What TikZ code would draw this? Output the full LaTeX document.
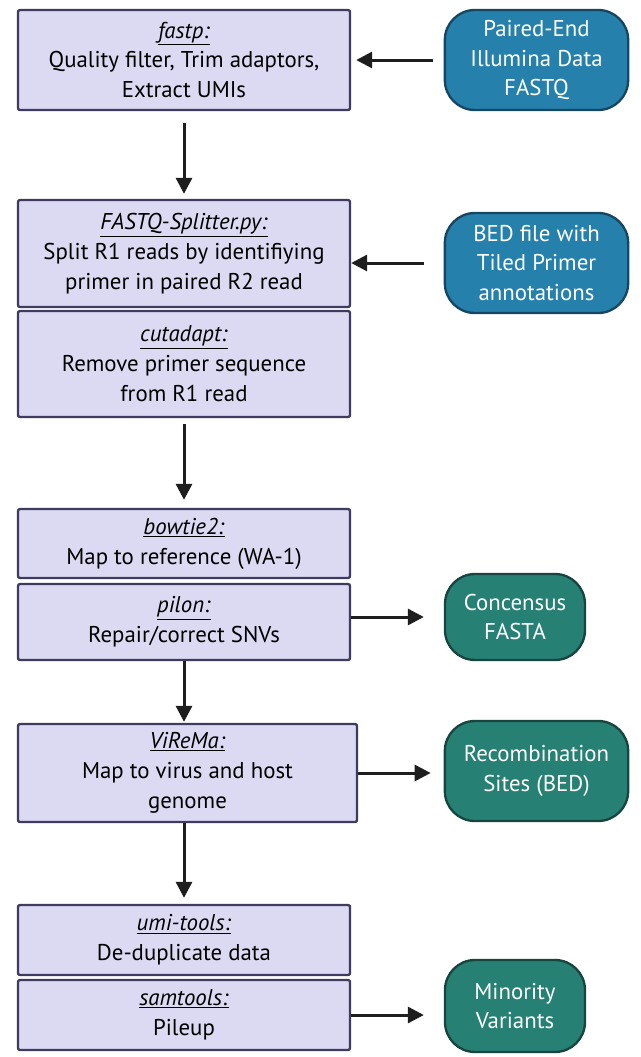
\documentclass[tikz,border=0pt]{standalone}
\usepackage{fontspec}
\setmainfont{PT Sans}
\usetikzlibrary{arrows.meta,positioning}

\definecolor{toolfill}{RGB}{220,218,242}
\definecolor{toolline}{RGB}{62,58,96}
\definecolor{inblue}{RGB}{38,128,172}
\definecolor{inblueline}{RGB}{22,70,98}
\definecolor{outgreen}{RGB}{38,128,116}
\definecolor{outgreenline}{RGB}{24,70,62}
\definecolor{arrowink}{RGB}{30,30,30}

\tikzset{
  tool/.style={draw=toolline, fill=toolfill, line width=0.07cm, rounded corners=0.06cm,
    align=center, inner sep=0pt, minimum width=9.96cm,
    font=\fontsize{19.5}{25.5}\selectfont},
  infile/.style={draw=inblueline, fill=inblue, line width=0.07cm, rounded corners=0.9cm,
    align=center, inner sep=0pt, text=white, minimum width=5.5cm, minimum height=3cm,
    font=\fontsize{19.5}{25.5}\selectfont},
  outfile/.style={infile, draw=outgreenline, fill=outgreen},
  flow/.style={draw=arrowink, -{Triangle[length=0.48cm,width=0.48cm]}, line width=0.09cm}
}
\newcommand{\toolname}[1]{\underline{\textit{#1}}}

\begin{document}
\begin{tikzpicture}[x=0.03cm, y=-0.03cm]
    \useasboundingbox (0,0) rectangle (641,1057);

    % pipeline boxes
    \node[tool, minimum height=3cm] (fastp) at (184,60)
        {\toolname{fastp:}\\Quality filter, Trim adaptors,\\Extract UMIs};
    \node[tool, minimum height=3.21cm] (splitter) at (184,253.5)
        {\toolname{FASTQ-Splitter.py:}\\Split R1 reads by identifiying\\primer in paired R2 read};
    \node[tool, minimum height=3.18cm] (cutadapt) at (184,364)
        {\toolname{cutadapt:}\\Remove primer sequence\\from R1 read};
    \node[tool, minimum height=2.07cm] (bowtie) at (184,543.5)
        {\toolname{bowtie2:}\\Map to reference (WA-1)};
    \node[tool, minimum height=2.28cm] (pilon) at (184,622)
        {\toolname{pilon:}\\Repair/correct SNVs};
    \node[tool, minimum height=2.94cm, minimum width=10.17cm] (virema) at (187.5,773)
        {\toolname{ViReMa:}\\Map to virus and host\\genome};
    \node[tool, minimum height=2.1cm] (umi) at (184,940)
        {\toolname{umi-tools:}\\De-duplicate data};
    \node[tool, minimum height=2.1cm] (samtools) at (184,1015)
        {\toolname{samtools:}\\Pileup};

    % inputs and outputs
    \node[infile] (reads) at (536.5,60) {Paired-End\\Illumina Data\\FASTQ};
    \node[infile] (bed) at (536.5,263) {BED file with\\Tiled Primer\\annotations};
    \node[outfile, minimum width=4.2cm, minimum height=2.58cm] (consensus) at (515,617)
        {Concensus\\FASTA};
    \node[outfile] (recomb) at (536.5,771) {Recombination\\Sites (BED)};
    \node[outfile, minimum width=4.2cm, minimum height=2.76cm] (minority) at (515,1006)
        {Minority\\Variants};

    % arrows
    \draw[flow, shorten <=0.33cm, shorten >=0.15cm] (reads.west) -- (reads.west -| fastp.east);
    \draw[flow, shorten <=0.36cm, shorten >=0.15cm] (fastp) -- (splitter);
    \draw[flow, shorten <=0.6cm] (bed.west) -- (bed.west -| splitter.east);
    \draw[flow, shorten <=0.18cm, shorten >=0.24cm] (cutadapt) -- (bowtie);
    \draw[flow, shorten >=0.6cm] (pilon.east |- consensus.west) -- (consensus.west);
    \draw[flow, shorten >=0.03cm] (pilon.south) -- (pilon.south |- virema.north);
    \draw[flow, shorten >=0.39cm] (virema.east) -- (virema.east -| recomb.west);
    \draw[flow, shorten >=0.18cm] (umi.north |- virema.south) -- (umi.north);
    \draw[flow, shorten >=0.6cm] (samtools.east) -- (samtools.east -| minority.west);
\end{tikzpicture}
\end{document}
